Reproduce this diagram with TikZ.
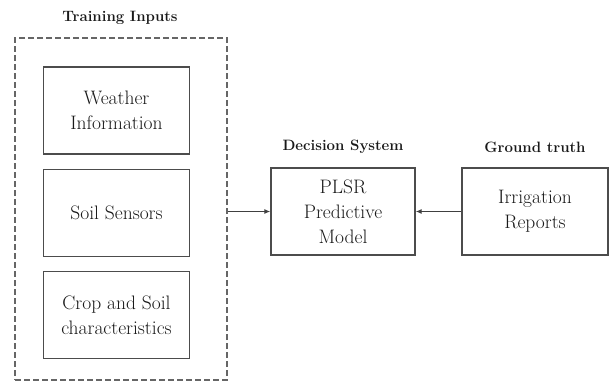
\documentclass[tikz,border=0pt]{standalone}
\usetikzlibrary{positioning,arrows.meta}
\tikzset{
  inbox/.style={draw=black!70,line width=1.3pt,minimum width=146pt,minimum height=87pt,
    inner sep=0pt,align=center,font=\fontsize{19.5}{25}\selectfont,text=black!90},
  grouptitle/.style={font=\bfseries\fontsize{15}{18}\selectfont,text=black!90},
  groupbox/.style={draw=black!60,line width=1.1pt,dash pattern=on 6pt off 3pt,
    minimum width=212pt,minimum height=342pt,inner sep=0pt},
  link/.style={draw=black!75,line width=1.4pt,-{Latex[length=6pt,width=5pt]}}
}
\begin{document}
\begin{tikzpicture}[x=1pt,y=-1pt]
  \useasboundingbox (0,0) rectangle (613,383);
  % training inputs group
  \path (121,209) node[groupbox] (T) {};
  \path (120,18) node[grouptitle] (TT) {Training Inputs};
  \path (116.5,110.5) node[inbox] (W) {Weather\\Information};
  \path node[inbox,below=14pt of W] (S) {Soil Sensors};
  \path node[inbox,below=14pt of S] (C) {Crop and Soil\\characteristics};

  % decision system and ground truth
  \path (343,211.5) node[inbox,minimum width=144pt] (P) {PLSR\\Predictive\\Model};
  \path (535,211.5) node[inbox] (R) {Irrigation\\Reports};
  \path (343,147) node[grouptitle] (PT) {Decision System};
  \path (535,147) node[grouptitle] (RT) {Ground truth};

  \draw[link] (T.east |- P.west) -- (P.west);
  \draw[link] (R.west) -- (P.east);
\end{tikzpicture}
\end{document}
